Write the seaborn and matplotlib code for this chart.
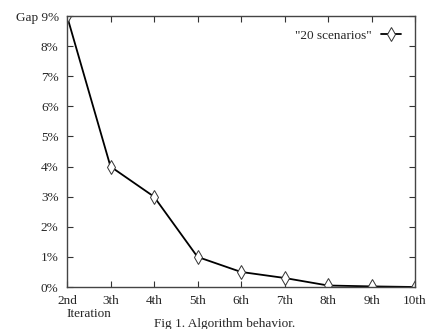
import matplotlib
matplotlib.use("Agg")
import matplotlib.pyplot as plt
import seaborn as sns
import pandas as pd

iterations = ["2nd", "3th", "4th", "5th", "6th", "7th", "8th", "9th", "10th"]
gap_values = [9.0, 4.0, 3.0, 1.0, 0.5, 0.3, 0.05, 0.02, 0.0]
y_ticks = [0, 1, 2, 3, 4, 5, 6, 7, 8, 9]
y_tick_labels = ["0%", "1%", "2%", "3%", "4%", "5%", "6%", "7%", "8%", "Gap 9%"]
series_name = '"20 scenarios"'

sns.set_theme(style="white")
plt.rcParams["font.family"] = ["Liberation Serif", "DejaVu Serif"]

df = pd.DataFrame({"x": list(range(len(iterations))), "gap": gap_values,
                   "series": series_name})

fig = plt.figure(figsize=(4.33, 3.29), dpi=100)
ax = fig.add_axes([67/433, 1-287/329, (415-67)/433, (287-16)/329])

sns.lineplot(data=df, x="x", y="gap", hue="series", palette=["black"],
             marker="d", markersize=7, markerfacecolor="white",
             markeredgecolor="#333333", markeredgewidth=0.7, linewidth=1.3,
             ax=ax)

ax.set_xlim(0, len(iterations) - 1)
ax.set_ylim(0, 9)
ax.set_xticks(range(len(iterations)))
ax.set_xticklabels(iterations, fontsize=9.5)
ax.set_yticks(y_ticks)
ax.set_yticklabels(y_tick_labels, fontsize=9.5)
ax.set_xlabel("")
ax.set_ylabel("")
ax.tick_params(direction="in", top=True, right=True, length=4, width=0.8,
               color="#333333", bottom=True, left=True)
ax.tick_params(axis="x", pad=6)
ax.tick_params(axis="y", pad=6)
for s in ax.spines.values():
    s.set_color("#444444")
    s.set_linewidth(1.0)
    s.set_visible(True)

fig.text(66/433, 1-314/329, "Iteration", fontsize=9.5, ha="left", va="center")
fig.text(225/433, 1-324/329, "Fig 1. Algorithm behavior.", fontsize=9.5,
         ha="center", va="center")

leg = ax.legend(loc="upper right", frameon=False, fontsize=9.5,
                markerfirst=False, handlelength=1.5, borderaxespad=0.45,
                borderpad=0.6, handletextpad=0.7)

fig.savefig("out.png", dpi=100)
